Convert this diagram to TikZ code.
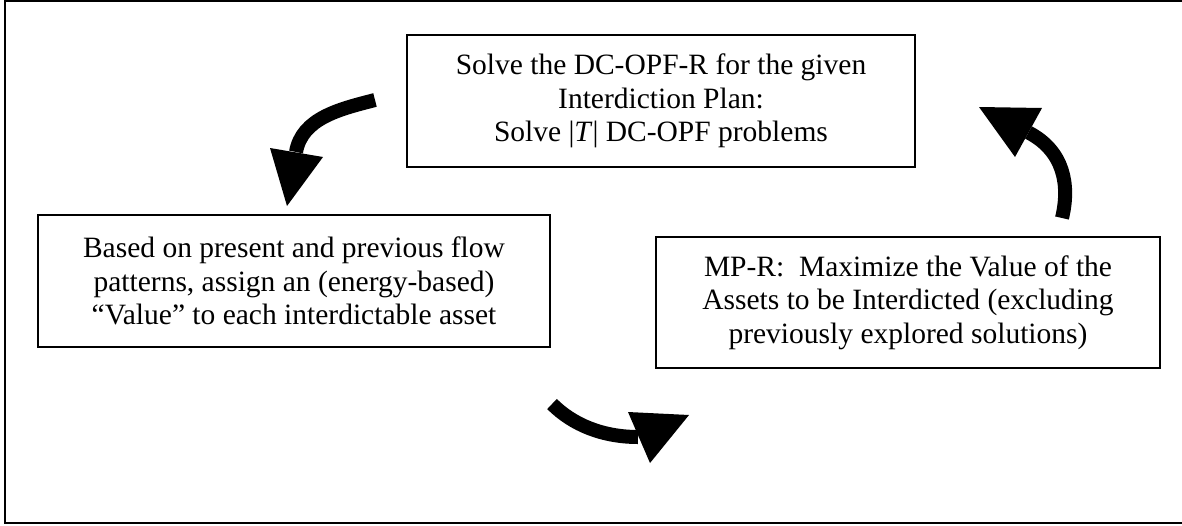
\documentclass[tikz,border=0pt]{standalone}
\usepackage{fontspec}
\setmainfont{Liberation Serif}
\begin{document}
\begin{tikzpicture}[x=1pt,y=-1pt,
  stepbox/.style={draw=black,line width=1.5pt,align=center,inner sep=0pt,
    font=\fontsize{29.5}{33.5}\selectfont},
  body/.style={line width=14pt,line cap=butt,black},
  head/.style={fill=black},
  frameline/.style={line width=2pt,black}]
\useasboundingbox (0,0) rectangle (1182,525);
% outer frame (left, top, bottom)
\draw[frameline] (1183,1) -- (5,1) -- (5,522.5) -- (1183,522.5);
% boxes
\node[stepbox,minimum width=508pt,minimum height=132pt] (top) at (661,101)
  {Solve the DC-OPF-R for the given\\Interdiction Plan:\\Solve |\textit{T}| DC-OPF problems};
\node[stepbox,minimum width=512pt,minimum height=132pt] (left) at (294,281)
  {Based on present and previous flow\\patterns, assign an (energy-based)\\“Value” to each interdictable asset};
\node[stepbox,minimum width=504pt,minimum height=131pt] (right) at (908,302.5)
  {MP-R:\ \ Maximize the Value of the\\Assets to be Interdicted (excluding\\previously explored solutions)};
% arrow 1: top -> left
\coordinate (a1s) at (375,100);
\coordinate (a1e) at (296,152);
\coordinate (h1a) at (270,148);
\coordinate (h1b) at (323,157);
\coordinate (h1t) at (287,206);
\draw[body] (a1s) .. controls +(-35,9) and +(6,-34) .. (a1e);
\fill[head] (h1a) -- (h1b) -- (h1t) -- cycle;
% arrow 2: left -> right
\coordinate (a2s) at (552,404);
\coordinate (a2e) at (638,437);
\coordinate (h2a) at (628,412);
\coordinate (h2b) at (650,463);
\coordinate (h2t) at (689,415);
\draw[body] (a2s) .. controls +(21,21) and +(-35,0) .. (a2e);
\fill[head] (h2a) -- (h2b) -- (h2t) -- cycle;
% arrow 3: right -> top
\coordinate (a3s) at (1062,218);
\coordinate (a3e) at (1028.5,132.5);
\coordinate (h3a) at (1042,108);
\coordinate (h3b) at (1015,157);
\coordinate (h3t) at (979,107);
\draw[body] (a3s) .. controls +(8,-33) and +(35.5,18.5) .. (a3e);
\fill[head] (h3a) -- (h3b) -- (h3t) -- cycle;
\end{tikzpicture}
\end{document}
